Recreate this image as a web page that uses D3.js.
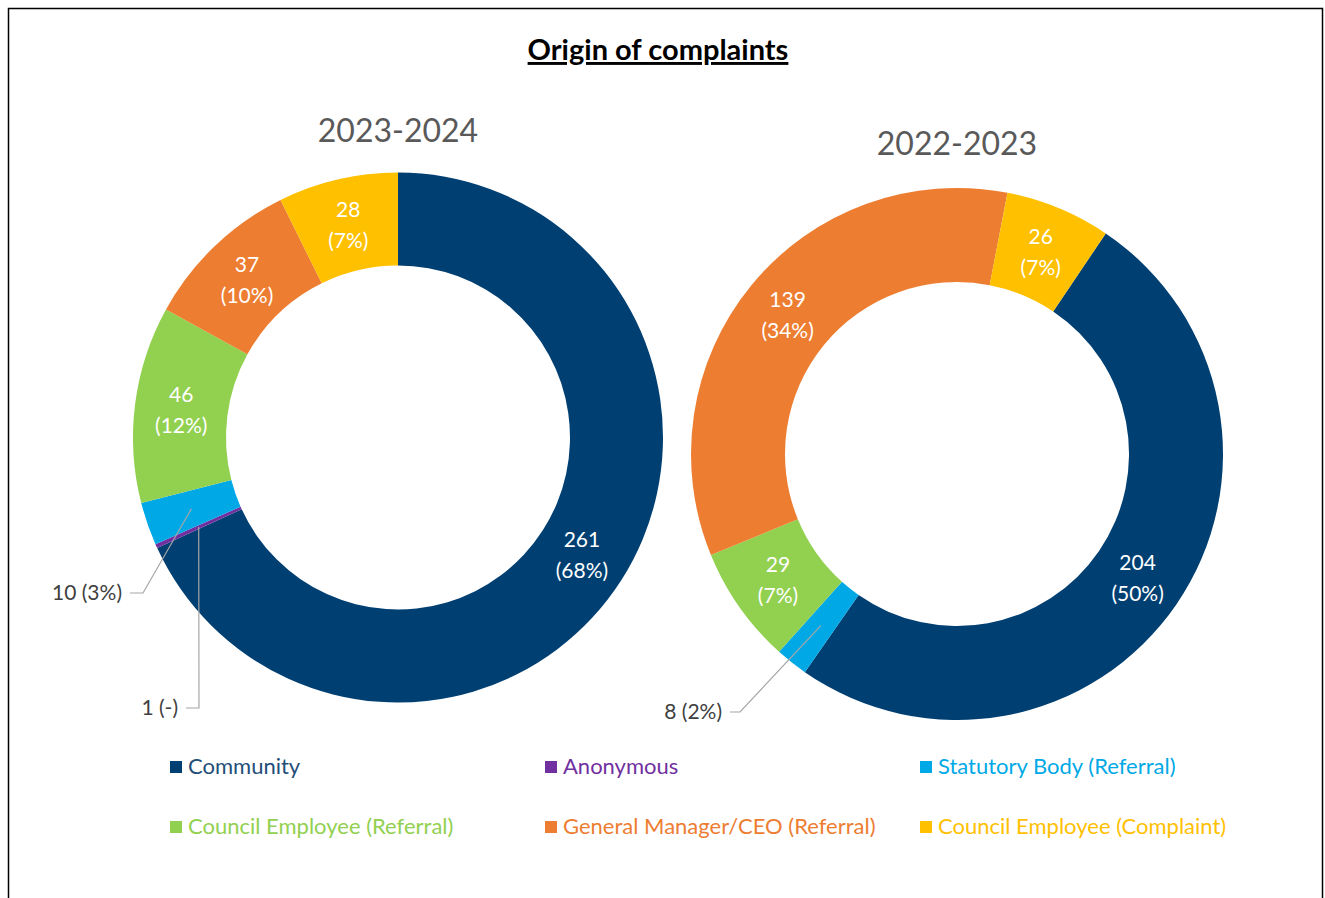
<!DOCTYPE html>
<html>
<head>
<meta charset="utf-8">
<script src="https://cdn.jsdelivr.net/npm/d3@7"></script>
<style>
  body { margin: 0; background: #fff; }
  svg text { font-family: Lato, "Open Sans", sans-serif; }
</style>
</head>
<body>
<div id="chart"></div>
<script>
// Origin of complaints - two donuts

const categories = ["Community", "Anonymous", "Statutory Body (Referral)", "Council Employee (Referral)",
                    "General Manager/CEO (Referral)", "Council Employee (Complaint)"];
const colors = ["#003f72", "#7030a0", "#00a9e6", "#92d050", "#ed7d31", "#ffc000"];
const textColors = ["#1f4e79", "#7030a0", "#00a9e6", "#92d050", "#ed7d31", "#ffc000"];

const values2324 = [261, 1, 10, 46, 37, 28];
const pct2324 = ["68%", "-", "3%", "12%", "10%", "7%"];
const values2223 = [204, 0, 8, 29, 139, 26];
const pct2223 = ["50%", "", "2%", "7%", "34%", "7%"];

const W = 1325, H = 898;

const svg = d3.select("#chart").append("svg")
  .attr("width", W)
  .attr("height", H);

// frame
svg.append("path")
  .attr("d", `M8.5,${H} V8.5 H1322.5 V${H}`)
  .attr("fill", "none")
  .attr("stroke", "#000")
  .attr("stroke-width", 1.5);

svg.append("text")
  .attr("x", 658)
  .attr("y", 60)
  .attr("text-anchor", "middle")
  .attr("font-size", 29)
  .attr("font-weight", "bold")
  .attr("text-decoration", "underline")
  .attr("fill", "#000")
  .text("Origin of complaints");

const charts = [
  { title: "2023-2024", values: values2324, pct: pct2324, cx: 398, cy: 437.5, r: 265, start: 0, titleY: 142,
    callouts: { 1: { elbow: [-199, 270.5], end: -212 }, 2: { elbow: [-255, 155.5], end: -268 } } },
  { title: "2022-2023", values: values2223, pct: pct2223, cx: 957, cy: 454, r: 266, start: 34, titleY: 155,
    callouts: { 2: { elbow: [-217, 258], end: -227 } } }
];

charts.forEach(c => {
  const g = svg.append("g").attr("transform", `translate(${c.cx},${c.cy})`);
  const inner = 172;

  const pie = d3.pie()
    .sort(null)
    .value(d => d.v)
    .startAngle(c.start * Math.PI / 180)
    .endAngle((c.start + 360) * Math.PI / 180);

  const arcs = pie(c.values.map((v, i) => ({ v: v, i: i, p: c.pct[i] })));

  const arc = d3.arc().innerRadius(inner).outerRadius(c.r);
  const mid = d3.arc().innerRadius((inner + c.r) / 2).outerRadius((inner + c.r) / 2);

  g.selectAll("path.slice")
    .data(arcs.filter(a => a.data.v > 0))
    .enter()
    .append("path")
    .attr("class", "slice")
    .attr("d", arc)
    .attr("fill", d => colors[d.data.i]);

  g.append("text")
    .attr("x", 0)
    .attr("y", c.titleY - c.cy)
    .attr("text-anchor", "middle")
    .attr("font-size", 32)
    .attr("fill", "#595959")
    .text(c.title);

  // labels inside slices
  arcs.filter(a => a.data.v > 0 && !c.callouts[a.data.i]).forEach(a => {
    const [x, y] = mid.centroid(a);
    const t = g.append("text")
      .attr("text-anchor", "middle")
      .attr("font-size", 21)
      .attr("fill", "#fff");
    t.append("tspan").attr("x", x).attr("y", y - 8).text(a.data.v);
    t.append("tspan").attr("x", x).attr("y", y + 23).text(`(${a.data.p})`);
  });

  // callout labels with leader lines
  arcs.filter(a => a.data.v > 0 && c.callouts[a.data.i]).forEach(a => {
    const co = c.callouts[a.data.i];
    const [x, y] = mid.centroid(a);
    g.append("polyline")
      .attr("points", `${x},${y} ${co.elbow[0]},${co.elbow[1]} ${co.end},${co.elbow[1]}`)
      .attr("fill", "none")
      .attr("stroke", "#a6a6a6")
      .attr("stroke-width", 1.2);
    g.append("text")
      .attr("x", co.end - 8)
      .attr("y", co.elbow[1] + 7)
      .attr("text-anchor", "end")
      .attr("font-size", 21)
      .attr("fill", "#404040")
      .text(`${a.data.v} (${a.data.p})`);
  });
});

// legend
const legend = svg.append("g");
categories.forEach((name, i) => {
  const col = i % 3, row = Math.floor(i / 3);
  const x = 170 + col * 375, y = 767 + row * 60;
  legend.append("rect")
    .attr("x", x)
    .attr("y", y - 6)
    .attr("width", 12)
    .attr("height", 12)
    .attr("fill", colors[i]);
  legend.append("text")
    .attr("x", x + 18)
    .attr("y", y + 7)
    .attr("font-size", 22)
    .attr("fill", textColors[i])
    .text(name);
});
</script>
</body>
</html>
